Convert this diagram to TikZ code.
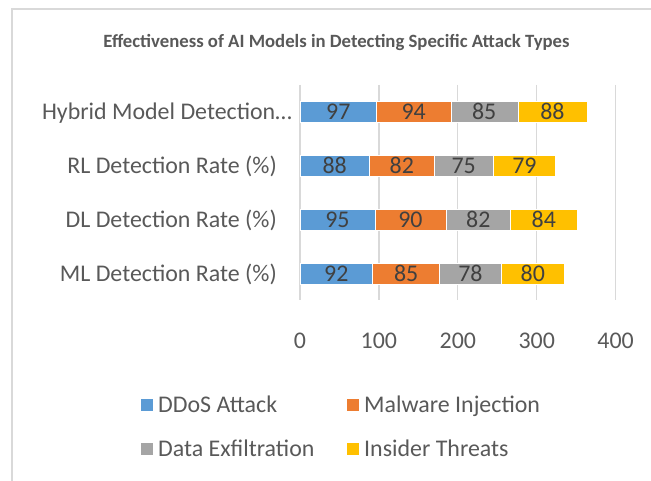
\documentclass[tikz,border=0pt]{standalone}
\usepackage{fontspec}
\setmainfont{Carlito}
\definecolor{cblue}{HTML}{5B9BD5}
\definecolor{corange}{HTML}{ED7D31}
\definecolor{cgray}{HTML}{A5A5A5}
\definecolor{cyellow}{HTML}{FFC000}
\definecolor{gridc}{HTML}{D9D9D9}
\definecolor{txtc}{HTML}{595959}
\definecolor{valc}{HTML}{404040}
\tikzset{
  txt/.style={inner sep=0pt, text height=19.4bp, text depth=4bp, text=txtc, font=\fontsize{24}{28}\selectfont},
  val/.style={txt, text=valc},
  cat/.style={txt, anchor=east},
  gridline/.style={draw=gridc, line width=1.3bp},
  segment/.style={draw=white, line width=0.4bp},
  legbox/.style={inner sep=0pt, minimum size=12bp},
}
\newcommand\hbarrow[6]{%
  \pgfmathsetmacro\bxA{300}%
  \pgfmathsetmacro\bxB{\bxA+0.789*#2}%
  \pgfmathsetmacro\bxC{\bxB+0.789*#3}%
  \pgfmathsetmacro\bxD{\bxC+0.789*#4}%
  \pgfmathsetmacro\bxE{\bxD+0.789*#5}%
  \filldraw[segment, fill=cblue] (\bxA,#1-10.5) rectangle (\bxB,#1+10.5);
  \filldraw[segment, fill=corange] (\bxB,#1-10.5) rectangle (\bxC,#1+10.5);
  \filldraw[segment, fill=cgray] (\bxC,#1-10.5) rectangle (\bxD,#1+10.5);
  \filldraw[segment, fill=cyellow] (\bxD,#1-10.5) rectangle (\bxE,#1+10.5);
  \node[val] (#6a) at ({(\bxA+\bxB)/2},#1) {#2};
  \node[val] (#6b) at ({(\bxB+\bxC)/2},#1) {#3};
  \node[val] (#6c) at ({(\bxC+\bxD)/2},#1) {#4};
  \node[val] (#6d) at ({(\bxD+\bxE)/2},#1) {#5};
}
\begin{document}
\begin{tikzpicture}[x=1bp,y=-1bp]
\useasboundingbox (0,0) rectangle (651,481);
\fill[white] (0,0) rectangle (651,481);
\draw[gridc, line width=2bp] (12,482) -- (12,9) -- (652,9);
% title
\node[inner sep=0pt, text=txtc, font=\bfseries\fontsize{18.8}{22}\selectfont] (title) at (336.5,43) {Effectiveness of AI Models in Detecting Specific Attack Types};
% gridlines
\foreach \v in {0,1,2,3,4} {
  \draw[gridline] (300+78.9*\v,85) -- (300+78.9*\v,300);
}
\node[txt] (t0) at (300,341) {0};
\node[txt] (t1) at (378.9,341) {100};
\node[txt] (t2) at (457.8,341) {200};
\node[txt] (t3) at (536.7,341) {300};
\node[txt] (t4) at (615.6,341) {400};
% bars
\hbarrow{111.5}{97}{94}{85}{88}{hy}
\hbarrow{165.5}{88}{82}{75}{79}{rl}
\hbarrow{219.5}{95}{90}{82}{84}{dl}
\hbarrow{273.5}{92}{85}{78}{80}{ml}
% category labels
\node[cat] (chy) at (292,111.5) {Hybrid Model Detection…};
\node[cat] (crl) at (277,165.5) {RL Detection Rate (\%)};
\node[cat] (cdl) at (277,219.5) {DL Detection Rate (\%)};
\node[cat] (cml) at (277,273.5) {ML Detection Rate (\%)};
% legend
\node[legbox, fill=cblue] (lb1) at (147,405) {};
\node[txt, anchor=west] (lt1) at (158,405) {DDoS Attack};
\node[legbox, fill=corange] (lb2) at (353,405) {};
\node[txt, anchor=west] (lt2) at (364,405) {Malware Injection};
\node[legbox, fill=cgray] (lb3) at (147,449) {};
\node[txt, anchor=west] (lt3) at (158,449) {Data Exfiltration};
\node[legbox, fill=cyellow] (lb4) at (353,449) {};
\node[txt, anchor=west] (lt4) at (364,449) {Insider Threats};
\end{tikzpicture}
\end{document}
